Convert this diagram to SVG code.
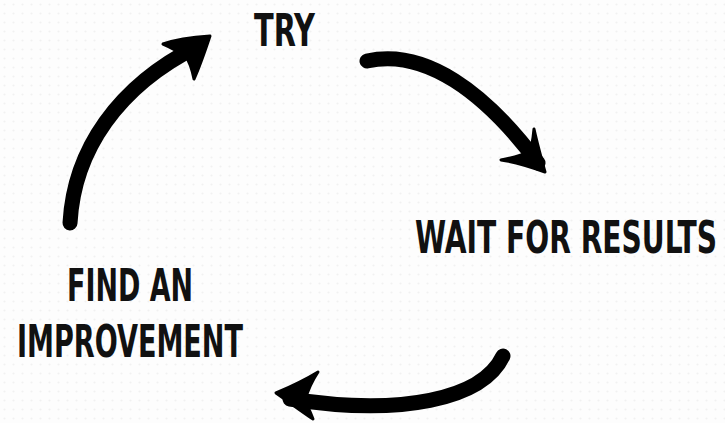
<svg xmlns="http://www.w3.org/2000/svg" width="725" height="423" viewBox="0 0 725 423">
  <defs>
    <pattern id="dots" width="9" height="9" patternUnits="userSpaceOnUse">
      <circle cx="4.5" cy="4.5" r="1.1" fill="#f1f1f1"/>
    </pattern>
  </defs>
  <style>
    .lbl { font-family: "Liberation Sans Narrow", "DejaVu Sans Condensed", "Liberation Sans", sans-serif; font-weight: bold; font-size: 31px; fill: #111111; }
    .shaft { fill: none; stroke: #000000; stroke-width: 15; stroke-linecap: round; }
    .head { fill: #000000; stroke: #000000; stroke-width: 3; stroke-linejoin: round; }
  </style>
  <rect x="0" y="0" width="725" height="423" fill="#fdfdfd"/>
  <rect x="0" y="0" width="725" height="423" fill="url(#dots)"/>

  <g id="node-try">
    <text class="lbl" transform="translate(254,46) scale(1,1.46)" x="0" y="0" textLength="61" lengthAdjust="spacingAndGlyphs">TRY</text>
  </g>
  <g id="node-wait">
    <text class="lbl" transform="translate(415,253) scale(1,1.46)" x="0" y="0" textLength="302" lengthAdjust="spacingAndGlyphs">WAIT FOR RESULTS</text>
  </g>
  <g id="node-find">
    <text class="lbl" transform="translate(67,301) scale(1,1.46)" x="0" y="0" textLength="126" lengthAdjust="spacingAndGlyphs">FIND AN</text>
    <text class="lbl" transform="translate(17,357) scale(1,1.46)" x="0" y="0" textLength="226" lengthAdjust="spacingAndGlyphs">IMPROVEMENT</text>
  </g>

  <g id="connectors">
    <g id="arrow-find-try">
      <path class="shaft" d="M70,223 C74,150 118,86 198,46"/>
      <path class="head" d="M163,44 C177,39 195,37 210,36 C205,51 200,66 194,79 C192,69 190,62 186,57 C178,51 170,47 163,44 Z"/>
    </g>
    <g id="arrow-try-wait">
      <path class="shaft" d="M367,61 C425,48 485,92 538,163"/>
      <path class="head" d="M501,160 C516,162 531,167 545,172 C541,157 537,143 534,129 C533,140 532,148 529,152 C520,156 510,158 501,160 Z"/>
    </g>
    <g id="arrow-wait-find">
      <path class="shaft" d="M503,356 C482,400 400,416 290,399"/>
      <path class="head" d="M318,372 C305,380 290,387 276,393 C289,402 301,411 313,419 C310,411 307,405 305,400 C308,390 312,381 318,372 Z"/>
    </g>
  </g>
</svg>
